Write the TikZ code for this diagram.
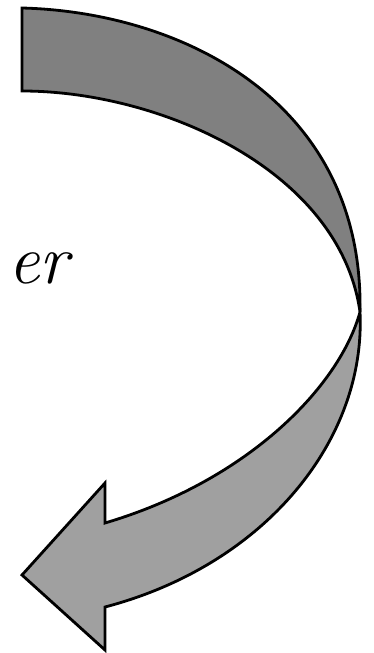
\documentclass[tikz,border=0pt]{standalone}
\begin{document}
\begin{tikzpicture}[x=1pt,y=-1pt,
  band/.style={draw=black,line width=2.8pt,line join=miter}]
\useasboundingbox (0,0) rectangle (374,653);
% upper (dark) half of the ribbon
\path[band,fill={rgb,255:red,128;green,128;blue,128}]
  (22,8) -- (22,91)
  .. controls (160,91) and (340,170) .. (360,312)
  .. controls (364,100) and (180,12) .. (22,8) -- cycle;
% lower (light) half with arrow head
\path[band,fill={rgb,255:red,160;green,160;blue,160}]
  (360,312)
  .. controls (340,385) and (250,480) .. (105,523)
  -- (105,483) -- (22,575) -- (105,650) -- (105,607)
  .. controls (265,565) and (366,440) .. (360,312) -- cycle;
\node[anchor=base east,inner sep=0pt,font=\itshape\fontsize{70}{70}\selectfont] (lbl) at (69,283) {er};
\end{tikzpicture}
\end{document}
